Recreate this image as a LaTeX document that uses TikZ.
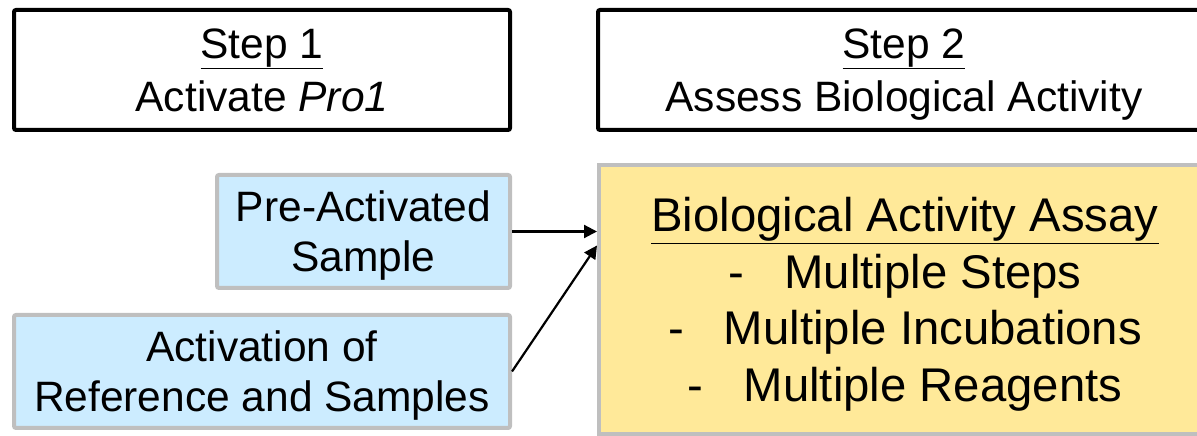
\documentclass[tikz,border=0pt]{standalone}
\usepackage{fontspec}
\setmainfont{Liberation Sans}
\usepackage{xcolor}
\usetikzlibrary{arrows.meta,positioning}

\definecolor{inblue}{HTML}{CCECFF}
\definecolor{assayyellow}{HTML}{FFE999}
\definecolor{rimgray}{HTML}{BFBFBF}

\begin{document}
\begin{tikzpicture}[
  x=1pt, y=1pt,
  font=\fontsize{42.5}{50}\selectfont,
  stepbox/.style={draw=black, line width=4pt, rounded corners=2pt, align=center, minimum height=120pt, inner sep=0pt},
  inbox/.style={draw=rimgray, fill=inblue, line width=4pt, rounded corners=2pt, align=center, minimum height=113pt, inner sep=0pt},
  assaybox/.style={draw=rimgray, fill=assayyellow, line width=4pt, align=center, inner sep=0pt,
    font=\fontsize{47.3}{56.5}\selectfont},
  arr/.style={-{Triangle[length=13pt,width=13pt]}, line width=2.2pt}
]
\useasboundingbox (0,0) rectangle (1197,436);
\clip (0,0) rectangle (1197,436);

% the two steps across the top
\node[stepbox, minimum width=496pt] (step1) at (262,366) {\underline{Step 1}\\[3pt]Activate \textit{Pro1}};
\node[stepbox, minimum width=612pt, right=84pt of step1.east, anchor=west] (step2) {\underline{Step 2}\\[3pt]\smash{Assess Biological Activity}};

% inputs on the left
\node[inbox, minimum width=293pt] (pre) at (363.5,204.5) {Pre-Activated\\\smash{Sample}};
\node[inbox, minimum width=496pt] (act) at (262,64.5) {Activation of\\\smash{Reference and Samples}};

% assay box, runs off the right and bottom
\node[assaybox, minimum width=612pt, minimum height=269pt] (assay) at (905,136.5)
  {\underline{Biological Activity Assay}\\
   -\hspace{0.85em}Multiple Steps\\
   -\hspace{0.85em}Multiple Incubations\\
   \smash{-\hspace{0.85em}Multiple Reagents}};

\coordinate (hit) at ([yshift=54pt]assay.west);
\draw[arr] (pre.east) -- (assay.west |- pre.east);
\draw[arr] (act.east) -- (hit);
\end{tikzpicture}
\end{document}
